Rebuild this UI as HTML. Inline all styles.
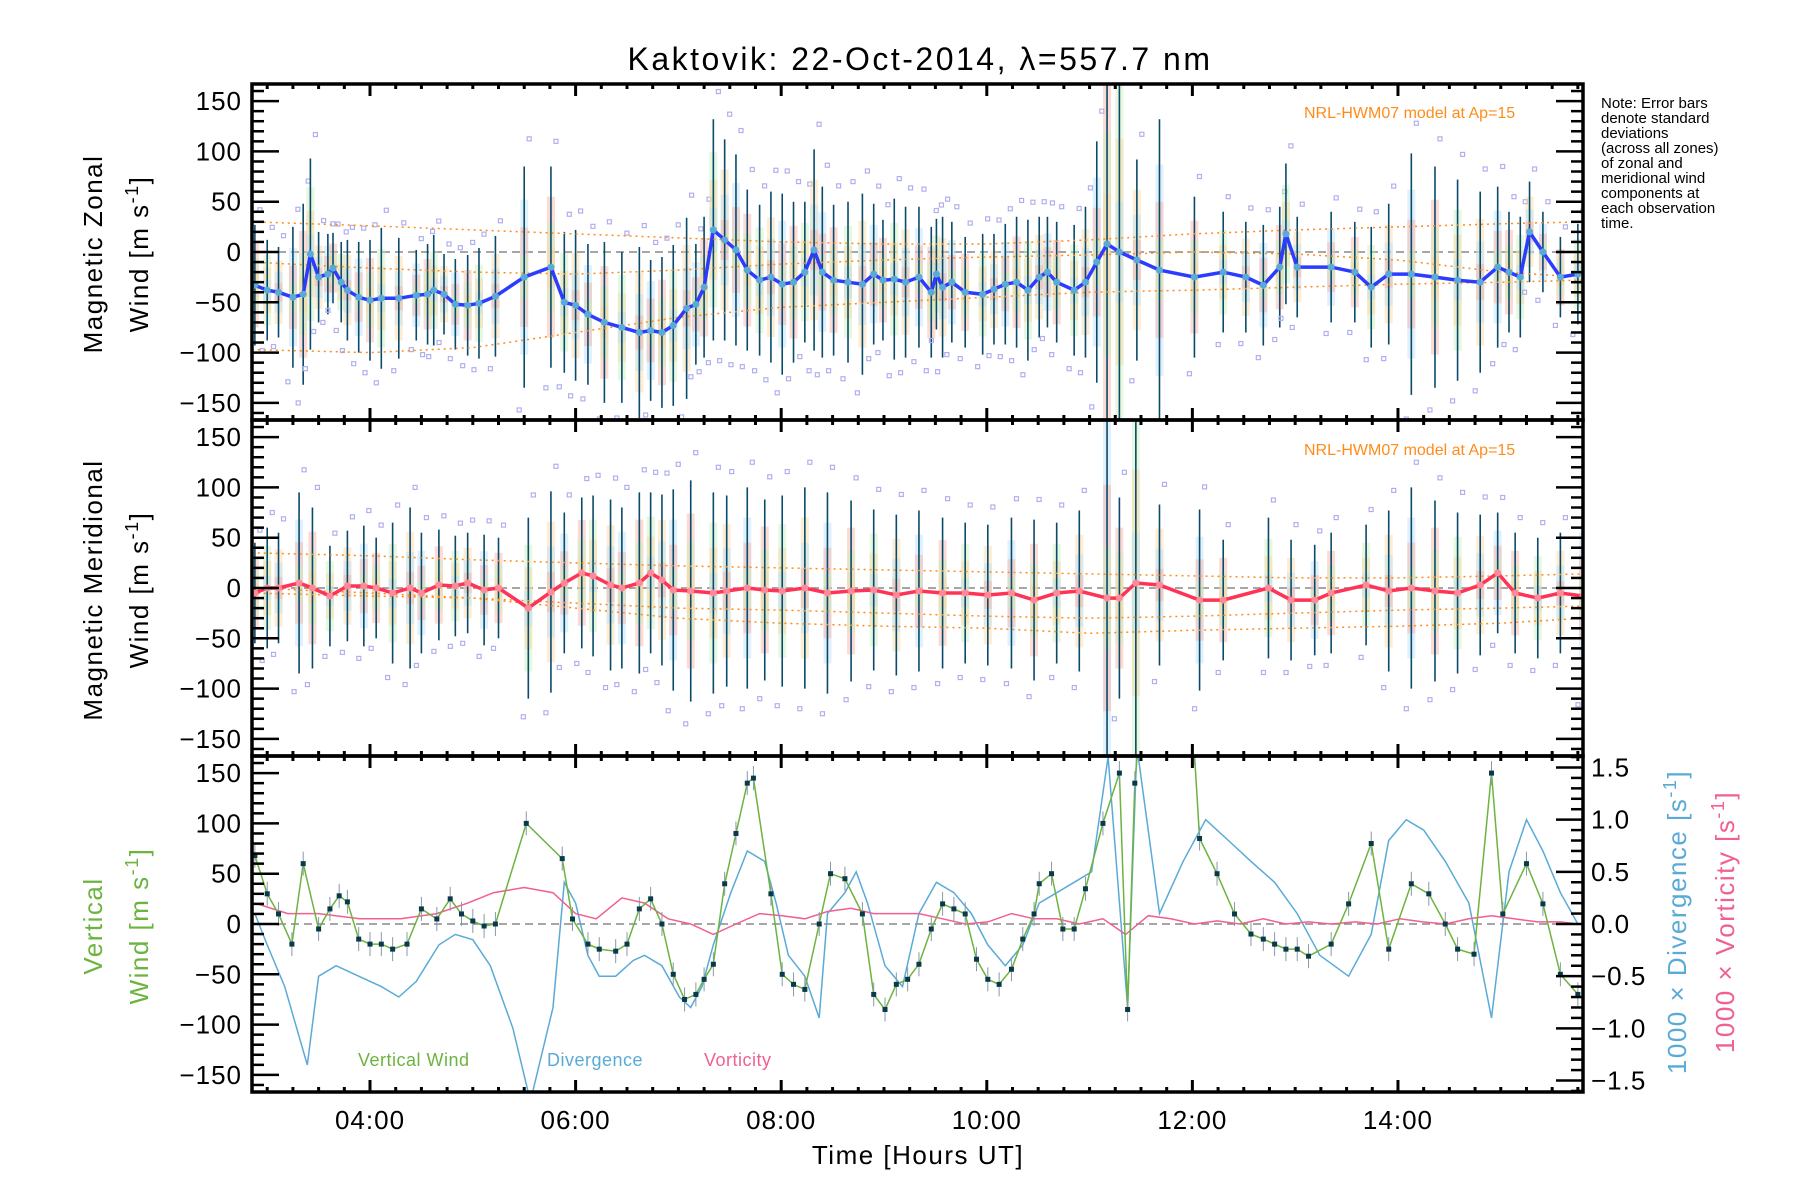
<!DOCTYPE html>
<html><head><meta charset="utf-8"><style>
html,body{margin:0;padding:0;background:#fff}
svg{display:block;font-family:"Liberation Sans",sans-serif}
</style></head><body>
<svg id="chart" width="1800" height="1200" viewBox="0 0 1800 1200" xmlns="http://www.w3.org/2000/svg">
<defs>
<clipPath id="c1"><rect x="252" y="84" width="1331" height="336"/></clipPath>
<clipPath id="c2"><rect x="252" y="420" width="1331" height="336"/></clipPath>
<clipPath id="c3"><rect x="252" y="756" width="1331" height="336"/></clipPath>
</defs>
<text x="920" y="70" font-size="32" text-anchor="middle" letter-spacing="2.5">Kaktovik: 22-Oct-2014, λ=557.7 nm</text>
<g id="layer"></g>
<g font-size="15" fill="#000">
<text x="1601" y="108">Note: Error bars</text>
<text x="1601" y="123">denote standard</text>
<text x="1601" y="138">deviations</text>
<text x="1601" y="153">(across all zones)</text>
<text x="1601" y="168">of zonal and</text>
<text x="1601" y="183">meridional wind</text>
<text x="1601" y="198">components at</text>
<text x="1601" y="213">each observation</text>
<text x="1601" y="228">time.</text>
</g>
<text transform="translate(102,254) rotate(-90)" font-size="26" text-anchor="middle" letter-spacing="1.5">Magnetic Zonal</text>
<text transform="translate(148,254) rotate(-90)" font-size="26" text-anchor="middle" letter-spacing="1.5">Wind [m s<tspan dy="-10" font-size="18">-1</tspan><tspan dy="10">]</tspan></text>
<text transform="translate(102,590) rotate(-90)" font-size="26" text-anchor="middle" letter-spacing="1.5">Magnetic Meridional</text>
<text transform="translate(148,590) rotate(-90)" font-size="26" text-anchor="middle" letter-spacing="1.5">Wind [m s<tspan dy="-10" font-size="18">-1</tspan><tspan dy="10">]</tspan></text>
<text transform="translate(102,926) rotate(-90)" font-size="26" text-anchor="middle" fill="#6db33f" letter-spacing="1.5">Vertical</text>
<text transform="translate(148,926) rotate(-90)" font-size="26" text-anchor="middle" fill="#6db33f" letter-spacing="1.5">Wind [m s<tspan dy="-10" font-size="18">-1</tspan><tspan dy="10">]</tspan></text>
<text transform="translate(1686,922) rotate(-90)" font-size="26" text-anchor="middle" fill="#5aaad8" letter-spacing="1.5">1000 × Divergence [s<tspan dy="-10" font-size="18">-1</tspan><tspan dy="10">]</tspan></text>
<text transform="translate(1734,922) rotate(-90)" font-size="26" text-anchor="middle" fill="#f06090" letter-spacing="1.5">1000 × Vorticity [s<tspan dy="-10" font-size="18">-1</tspan><tspan dy="10">]</tspan></text>
<text x="918" y="1164" font-size="26" text-anchor="middle" letter-spacing="1.5">Time [Hours UT]</text>
<text x="358" y="1066" font-size="18" fill="#6db33f" letter-spacing="0.5">Vertical Wind</text>
<text x="547" y="1066" font-size="18" fill="#5aaad8" letter-spacing="0.5">Divergence</text>
<text x="704" y="1066" font-size="18" fill="#f06090" letter-spacing="0.5">Vorticity</text>
<text x="1304" y="118" font-size="16" fill="#ff8c1a">NRL-HWM07 model at Ap=15</text>
<text x="1304" y="455" font-size="16" fill="#ff8c1a">NRL-HWM07 model at Ap=15</text>
</svg>
<script>
// ---------- data ----------
const zonalT=[2.88,3.00,3.11,3.25,3.35,3.42,3.50,3.59,3.64,3.72,3.78,3.89,4.00,4.11,4.28,4.45,4.56,4.62,4.72,4.83,4.95,5.06,5.22,5.50,5.76,5.89,6.00,6.12,6.28,6.45,6.62,6.73,6.84,6.95,7.08,7.17,7.25,7.34,7.45,7.56,7.67,7.79,7.90,8.01,8.12,8.23,8.32,8.40,8.51,8.65,8.79,8.90,8.99,9.10,9.21,9.34,9.46,9.51,9.57,9.66,9.79,9.96,10.07,10.18,10.29,10.40,10.51,10.59,10.68,10.85,10.96,11.07,11.17,11.29,11.46,11.68,12.02,12.30,12.52,12.69,12.85,12.91,13.02,13.35,13.58,13.74,13.91,14.13,14.36,14.58,14.80,14.97,15.08,15.19,15.28,15.41,15.58,15.75];
const zonalV=[-33,-38,-40,-45,-42,-2,-25,-22,-16,-30,-38,-45,-48,-46,-46,-43,-42,-38,-42,-52,-53,-51,-44,-25,-15,-50,-53,-62,-70,-75,-80,-78,-80,-73,-56,-52,-35,22,12,2,-18,-28,-25,-32,-30,-20,2,-20,-28,-30,-32,-22,-28,-27,-30,-25,-40,-22,-35,-30,-40,-42,-37,-32,-30,-38,-25,-20,-30,-38,-30,-10,8,0,-8,-18,-25,-20,-25,-33,-15,18,-15,-15,-20,-35,-22,-22,-25,-28,-30,-15,-20,-25,20,0,-25,-22];
const zonalStd=[60,50,45,70,90,95,45,40,35,40,50,55,60,70,60,45,50,55,40,45,50,55,60,110,100,70,75,70,80,75,85,70,75,80,90,60,70,110,100,95,80,75,85,90,80,70,100,85,75,80,90,70,60,80,75,70,65,55,70,60,55,60,55,60,65,70,60,55,60,65,75,120,250,250,100,150,80,60,55,60,60,70,50,55,50,60,70,120,110,100,90,80,60,60,50,40,40,50];
const meridT=[2.88,3.00,3.11,3.31,3.44,3.61,3.78,3.94,4.06,4.22,4.39,4.50,4.67,4.83,4.95,5.11,5.25,5.54,5.76,5.89,6.06,6.17,6.34,6.45,6.62,6.73,6.84,6.95,7.12,7.34,7.47,7.67,7.84,8.01,8.23,8.45,8.68,8.90,9.12,9.34,9.57,9.79,10.01,10.24,10.46,10.68,10.90,11.17,11.29,11.45,11.68,12.07,12.30,12.74,12.96,13.19,13.35,13.69,13.91,14.13,14.36,14.58,14.80,14.97,15.14,15.36,15.58,15.80];
const meridV=[-5,0,0,5,0,-8,2,2,0,-5,0,-5,3,2,5,-2,0,-20,-4,5,15,12,3,0,5,15,8,-2,-3,-5,-3,0,-2,-3,0,-5,-3,-2,-7,-3,-5,-5,-7,-5,-12,-5,-3,-10,-10,5,3,-12,-12,0,-12,-12,-5,3,-3,0,-3,-5,3,15,-5,-10,-5,-8];
const meridStd=[50,60,55,90,80,50,55,60,50,70,80,60,55,50,50,55,50,90,100,70,75,80,85,80,90,80,85,100,110,100,95,100,90,95,100,100,90,80,80,80,75,70,70,75,80,70,80,250,100,250,80,90,60,70,60,55,60,60,80,100,90,80,70,60,60,60,60,90];
const vertT=[2.88,3.00,3.11,3.24,3.35,3.50,3.61,3.70,3.78,3.89,4.00,4.11,4.22,4.36,4.50,4.65,4.78,4.89,5.00,5.11,5.22,5.52,5.87,5.97,6.12,6.23,6.39,6.50,6.62,6.73,6.84,6.95,7.06,7.17,7.25,7.34,7.45,7.56,7.67,7.73,7.90,8.01,8.12,8.23,8.37,8.48,8.62,8.79,8.90,9.01,9.12,9.23,9.34,9.46,9.57,9.68,9.79,9.90,10.01,10.12,10.24,10.35,10.46,10.51,10.63,10.74,10.85,10.96,11.13,11.29,11.37,11.44,11.52,11.79,12.02,12.07,12.24,12.41,12.57,12.69,12.80,12.91,13.02,13.13,13.35,13.52,13.74,13.91,14.13,14.30,14.46,14.58,14.74,14.91,15.02,15.25,15.41,15.58,15.75];
const vertV=[68,30,10,-20,60,-5,15,28,22,-15,-20,-20,-25,-20,15,5,25,10,3,-2,0,100,65,5,-20,-25,-27,-20,15,25,0,-50,-75,-70,-55,-40,40,90,140,145,30,-50,-60,-65,0,50,45,10,-70,-85,-60,-55,-40,-5,20,15,10,-35,-55,-60,-45,-15,10,40,50,-5,-5,35,100,150,-85,140,230,230,170,85,50,10,-10,-15,-20,-25,-25,-32,-20,20,80,-25,40,30,0,-25,-30,150,10,60,20,-50,-70];
const divT=[2.88,3.00,3.17,3.39,3.50,3.67,3.89,4.11,4.28,4.45,4.67,4.83,5.00,5.17,5.39,5.56,5.78,5.89,6.00,6.12,6.23,6.39,6.56,6.67,6.84,7.01,7.12,7.23,7.34,7.51,7.67,7.84,7.95,8.07,8.23,8.37,8.45,8.62,8.73,8.84,9.01,9.18,9.34,9.51,9.68,9.85,10.01,10.18,10.35,10.51,10.68,10.85,11.02,11.18,11.37,11.46,11.68,11.91,12.13,12.35,12.57,12.80,13.02,13.24,13.52,13.74,13.91,14.08,14.25,14.46,14.69,14.91,15.08,15.25,15.41,15.58,15.75];
const divV=[0.1,-0.2,-0.6,-1.35,-0.5,-0.4,-0.5,-0.6,-0.7,-0.55,-0.2,-0.1,-0.15,-0.4,-1.0,-1.7,-0.8,0.4,0.2,-0.3,-0.5,-0.5,-0.35,-0.3,-0.4,-0.7,-0.8,-0.6,-0.2,0.3,0.7,0.6,0.2,-0.3,-0.5,-0.9,0.1,0.3,0.5,0.2,-0.4,-0.6,0.1,0.4,0.3,0.1,-0.2,-0.4,-0.2,0.2,0.3,0.4,0.5,1.6,-0.8,1.7,0.1,0.6,1.0,0.8,0.6,0.4,0.1,-0.3,-0.5,-0.1,0.8,1.0,0.9,0.6,0.2,-0.9,0.5,1.0,0.7,0.3,0.0];
const vortT=[2.88,3.2,3.5,3.9,4.3,4.65,4.95,5.2,5.5,5.78,6.0,6.2,6.45,6.67,6.9,7.12,7.34,7.56,7.79,8.01,8.23,8.45,8.68,8.90,9.12,9.34,9.57,9.79,10.01,10.24,10.46,10.68,10.90,11.13,11.35,11.57,11.79,12.02,12.24,12.46,12.69,12.91,13.13,13.35,13.58,13.80,14.02,14.24,14.46,14.69,14.91,15.13,15.36,15.58,15.75];
const vortV=[0.2,0.1,0.1,0.05,0.05,0.1,0.2,0.3,0.35,0.3,0.1,0.05,0.25,0.2,0.05,0.0,-0.1,0.0,0.1,0.08,0.05,0.12,0.15,0.1,0.1,0.1,0.05,0.0,0.02,0.1,0.05,0.05,0.0,0.05,-0.1,0.08,0.05,0.0,0.03,0.0,0.05,0.0,0.02,0.0,0.02,0.0,0.05,0.02,0.0,0.05,0.08,0.05,0.02,0.02,0.0];
const modelT=[2.85,4,5,6,7,8,9,10,11,12,13,14,15,15.8];
const zModelHi=[30,26,22,18,14,10,8,8,12,18,22,25,28,30];
const zModelMid=[-10,-16,-20,-22,-18,-12,-8,-5,-3,0,-2,-8,-20,-25];
const zModelLo=[-97,-100,-95,-80,-65,-55,-50,-45,-40,-38,-35,-32,-30,-28];
const mModelHi=[35,32,28,25,22,20,18,16,14,12,10,10,12,14];
const mModelMid=[-5,-8,-10,-15,-20,-22,-25,-28,-30,-28,-25,-22,-20,-18];
const mModelLo=[0,-5,-10,-20,-30,-35,-38,-40,-45,-42,-40,-38,-35,-30];
const xTickLabels=["04:00","06:00","08:00","10:00","12:00","14:00"];
const xTickHours=[4,6,8,10,12,14];
const yTicks=[-150,-100,-50,0,50,100,150];
const rTicks=[-1.5,-1.0,-0.5,0.0,0.5,1.0,1.5];

// ---------- axes ----------
const L=252,R=1583;
const H0=2.852,H1=15.80;
const P=[{t:84,b:420},{t:420,b:756},{t:756,b:1092}];
const X=h=>L+(h-H0)/(H1-H0)*(R-L);
const Y=(p,v)=>{const m=(P[p].t+P[p].b)/2;return m-v*(P[p].b-P[p].t)/334;};
const YR=v=>{const m=(P[2].t+P[2].b)/2;return m-v*(P[2].b-P[2].t)/(2*1.61);};
const NS="http://www.w3.org/2000/svg";
const layer=document.getElementById('layer');
function mk(tag,at,parent){const e=document.createElementNS(NS,tag);for(const k in at)e.setAttribute(k,at[k]);(parent||layer).appendChild(e);return e;}
function poly(xs,ys,at,parent){return mk('polyline',Object.assign({points:xs.map((x,i)=>x.toFixed(1)+','+ys[i].toFixed(1)).join(' '),fill:'none'},at),parent);}

const bandCols=['#f8b0a0','#c8f0b8','#f8d8a0','#b8e0f8'];
function windPanel(p,T,V,S,hi,mid,lo,lineCol,name){
  const g=mk('g',{'clip-path':'url(#c'+(p+1)+')'});
  
  
  mk('line',{x1:L,x2:R,y1:Y(p,0),y2:Y(p,0),stroke:'#888','stroke-width':1.5,'stroke-dasharray':'8,5'},g);
  T.forEach((t,i)=>{
    const x=X(t);
    [0.7,0.45,0.2].forEach((f,k)=>{
      const band=mk('rect',{x:x-4,y:Y(p,V[i]+S[i]*f),width:8,height:Y(p,V[i]-S[i]*f)-Y(p,V[i]+S[i]*f),fill:bandCols[(i+k)%4],opacity:0.45},g);
      
      
    });
    const sq1=mk('rect',{x:x+3,y:Y(p,V[i]+S[i]*1.25)-2,width:4,height:4,fill:'none',stroke:'#b0b0ee','stroke-width':1.2},g);
    
    
    const sq2=mk('rect',{x:x-7,y:Y(p,V[i]-S[i]*1.2)-2,width:4,height:4,fill:'none',stroke:'#b0b0ee','stroke-width':1.2},g);
    
    
    const eb=mk('line',{x1:x,x2:x,y1:Y(p,V[i]+S[i]),y2:Y(p,V[i]-S[i]),stroke:'#0a4a6a','stroke-width':1.6},g);
    
    
  });
  [hi,mid,lo].forEach(m=>{
    const ml=poly(modelT.map(X),m.map(v=>Y(p,v)),{stroke:'#ff8c1a','stroke-width':1.5,'stroke-dasharray':'2,4'},g);
    
    
  });
  const ln=poly(T.map(X),V.map(v=>Y(p,v)),{stroke:lineCol,'stroke-width':3.5},g);
  
  
  T.forEach((t,i)=>{
    const c=mk('circle',{cx:X(t),cy:Y(p,V[i]),r:3.5,fill:p==0?'#5aaad8':'#ff8899'},g);
    
    
  });
}
windPanel(0,zonalT,zonalV,zonalStd,zModelHi,zModelMid,zModelLo,'#2b3cff','zonal');
windPanel(1,meridT,meridV,meridStd,mModelHi,mModelMid,mModelLo,'#ff3355','meridional');

{
  const g=mk('g',{'clip-path':'url(#c3)'});
  
  
  mk('line',{x1:L,x2:R,y1:Y(2,0),y2:Y(2,0),stroke:'#888','stroke-width':1.5,'stroke-dasharray':'8,5'},g);
  const dl=poly(divT.map(X),divV.map(YR),{stroke:'#5aaad8','stroke-width':1.5},g);
  
  
  const vl=poly(vortT.map(X),vortV.map(YR),{stroke:'#f06090','stroke-width':1.5},g);
  
  
  const wl=poly(vertT.map(X),vertV.map(v=>Y(2,v)),{stroke:'#6db33f','stroke-width':1.5},g);
  
  
  vertT.forEach((t,i)=>{
    const x=X(t),y=Y(2,vertV[i]);
    const e=mk('line',{x1:x,x2:x,y1:y-12,y2:y+12,stroke:'#8899aa','stroke-width':1},g);
    
    
    const c=mk('rect',{x:x-2.5,y:y-2.5,width:5,height:5,fill:'#0a3a4a'},g);
    
    
  });
}

P.forEach((pp,p)=>{
  const f=mk('rect',{x:L,y:pp.t,width:R-L,height:pp.b-pp.t,fill:'none',stroke:'#000','stroke-width':3.5});
  
  
  for(let v=-160;v<=160;v+=10){
    const y=Y(p,v),len=v%50==0?27:12;
    mk('line',{x1:L,x2:L+len,y1:y,y2:y,stroke:'#000','stroke-width':2.5});
    if(p<2) mk('line',{x1:R,x2:R-len,y1:y,y2:y,stroke:'#000','stroke-width':2.5});
  }
  for(let h=3;h<=15.75;h+=0.25){
    const x=X(h),len=(Math.abs(h%2)<1e-6)?12:5;
    mk('line',{x1:x,x2:x,y1:pp.b,y2:pp.b-len,stroke:'#000','stroke-width':3});
    mk('line',{x1:x,x2:x,y1:pp.t,y2:pp.t+len,stroke:'#000','stroke-width':3});
  }
  yTicks.forEach(v=>{
    const t=mk('text',{x:242,y:Y(p,v)+9,'font-size':26,'text-anchor':'end','letter-spacing':1});
    
    
    t.textContent=(v<0?'\u2212':'')+Math.abs(v);
  });
});
rTicks.forEach(v=>{
  const y=YR(v);
  const t=mk('text',{x:R+8,y:y+9,'font-size':26,'letter-spacing':1});
  
  
  t.textContent=(v<0?'\u2212':'')+Math.abs(v).toFixed(1);
});
for(let v=-1.6;v<=1.61;v+=0.1){
  const y=YR(v),len=Math.abs(Math.round(v*10)%5)==0?27:12;
  mk('line',{x1:R,x2:R-len,y1:y,y2:y,stroke:'#000','stroke-width':2.5});
}
xTickHours.forEach((h,i)=>{
  const t=mk('text',{x:X(h),y:1129,'font-size':26,'text-anchor':'middle','letter-spacing':1});
  
  
  t.textContent=xTickLabels[i];
});
</script>
</body></html>
